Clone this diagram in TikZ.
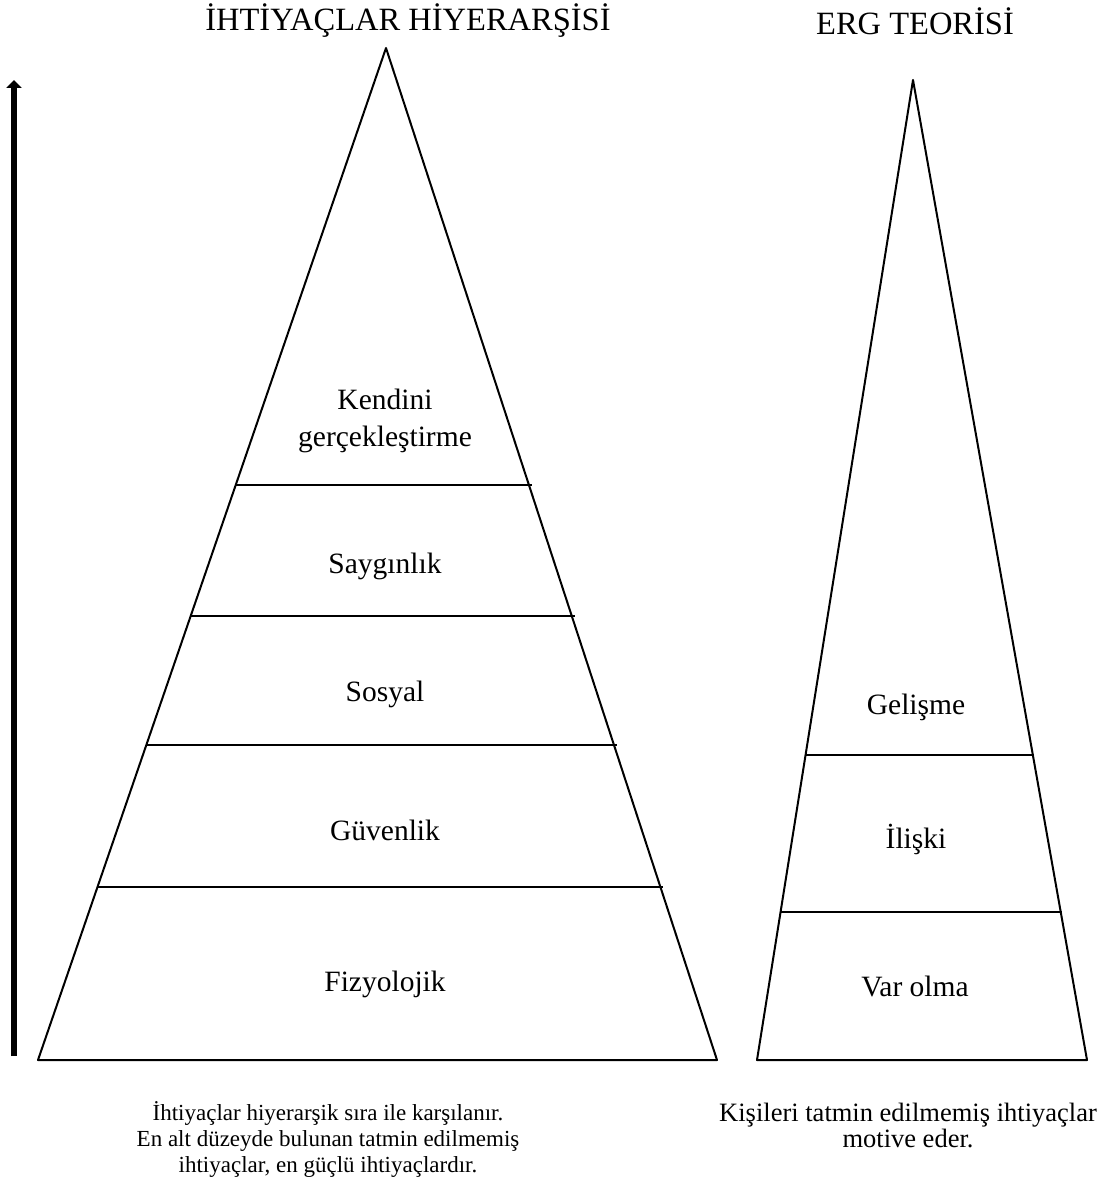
\documentclass[tikz,border=0pt]{standalone}
\usepackage{fontspec}
\setmainfont{Liberation Serif}
\usetikzlibrary{calc,arrows.meta}
\tikzset{
  edge/.style={line width=2pt, line join=round},
  level/.style={line width=2pt},
  lbl/.style={font=\fontsize{29.5}{37}\selectfont, align=center, inner sep=0pt},
  title/.style={font=\fontsize{32.5}{38}\selectfont, inner sep=0pt},
  note/.style={font=\fontsize{23}{26}\selectfont, align=center, inner sep=0pt},
  bignote/.style={font=\fontsize{26.5}{26}\selectfont, align=center, inner sep=0pt},
}
\begin{document}
\begin{tikzpicture}[x=1pt,y=-1pt]
\useasboundingbox (0,0) rectangle (1115,1190);

% Maslow pyramid
\coordinate (mA) at (386,48);
\coordinate (mL) at (38,1060);
\coordinate (mR) at (717,1060);
\draw[edge] (mA) -- (mL) -- (mR) -- cycle;
\foreach \yy/\nm in {485/a,616/b,745/c,887/d}{
  \coordinate (ml\nm) at ($(mA)!{(\yy-48)/1012}!(mL)$);
  \coordinate (mr\nm) at ($(mA)!{(\yy-48)/1012}!(mR)$);
  \draw[level] (ml\nm) -- ($(mr\nm)+(3,0)$);
}

% ERG pyramid
\coordinate (eA) at (913,80);
\coordinate (eL) at (757,1060);
\coordinate (eR) at (1087,1060);
\draw[edge] (eA) -- (eL) -- (eR) -- cycle;
\foreach \yy/\nm in {755/a,912/b}{
  \coordinate (el\nm) at ($(eA)!{(\yy-80)/980}!(eL)$);
  \coordinate (er\nm) at ($(eA)!{(\yy-80)/980}!(eR)$);
  \draw[level] (el\nm) -- ($(er\nm)+(1,0)$);
}

% priority arrow
\coordinate (arB) at (14,1056);
\coordinate (arT) at (14,80);
\draw[line width=6pt, -{Triangle[width=15pt,length=8pt]}] (arB) -- (arT);

% titles
\node[title] (t1) at (408,21) {İHTİYAÇLAR HİYERARŞİSİ};
\node[title] (t2) at (915,21) {ERG TEORİSİ};

% Maslow levels
\node[lbl] (k1) at (385,421) {Kendini\\gerçekleştirme};
\node[lbl] (k2) at (385,566) {Saygınlık};
\node[lbl] (k3) at (385,694) {Sosyal};
\node[lbl] (k4) at (385,830) {Güvenlik};
\node[lbl] (k5) at (385,984) {Fizyolojik};

% ERG levels
\node[lbl] (g1) at (916,707) {Gelişme};
\node[lbl] (g2) at (916,839) {İlişki};
\node[lbl] (g3) at (915,986) {Var olma};

% notes
\node[note] (n1) at (328,1139) {İhtiyaçlar hiyerarşik sıra ile karşılanır.\\En alt düzeyde bulunan tatmin edilmemiş\\ihtiyaçlar, en güçlü ihtiyaçlardır.};
\node[bignote] (n2) at (908,1125) {Kişileri tatmin edilmemiş ihtiyaçlar\\motive eder.};
\end{tikzpicture}
\end{document}
